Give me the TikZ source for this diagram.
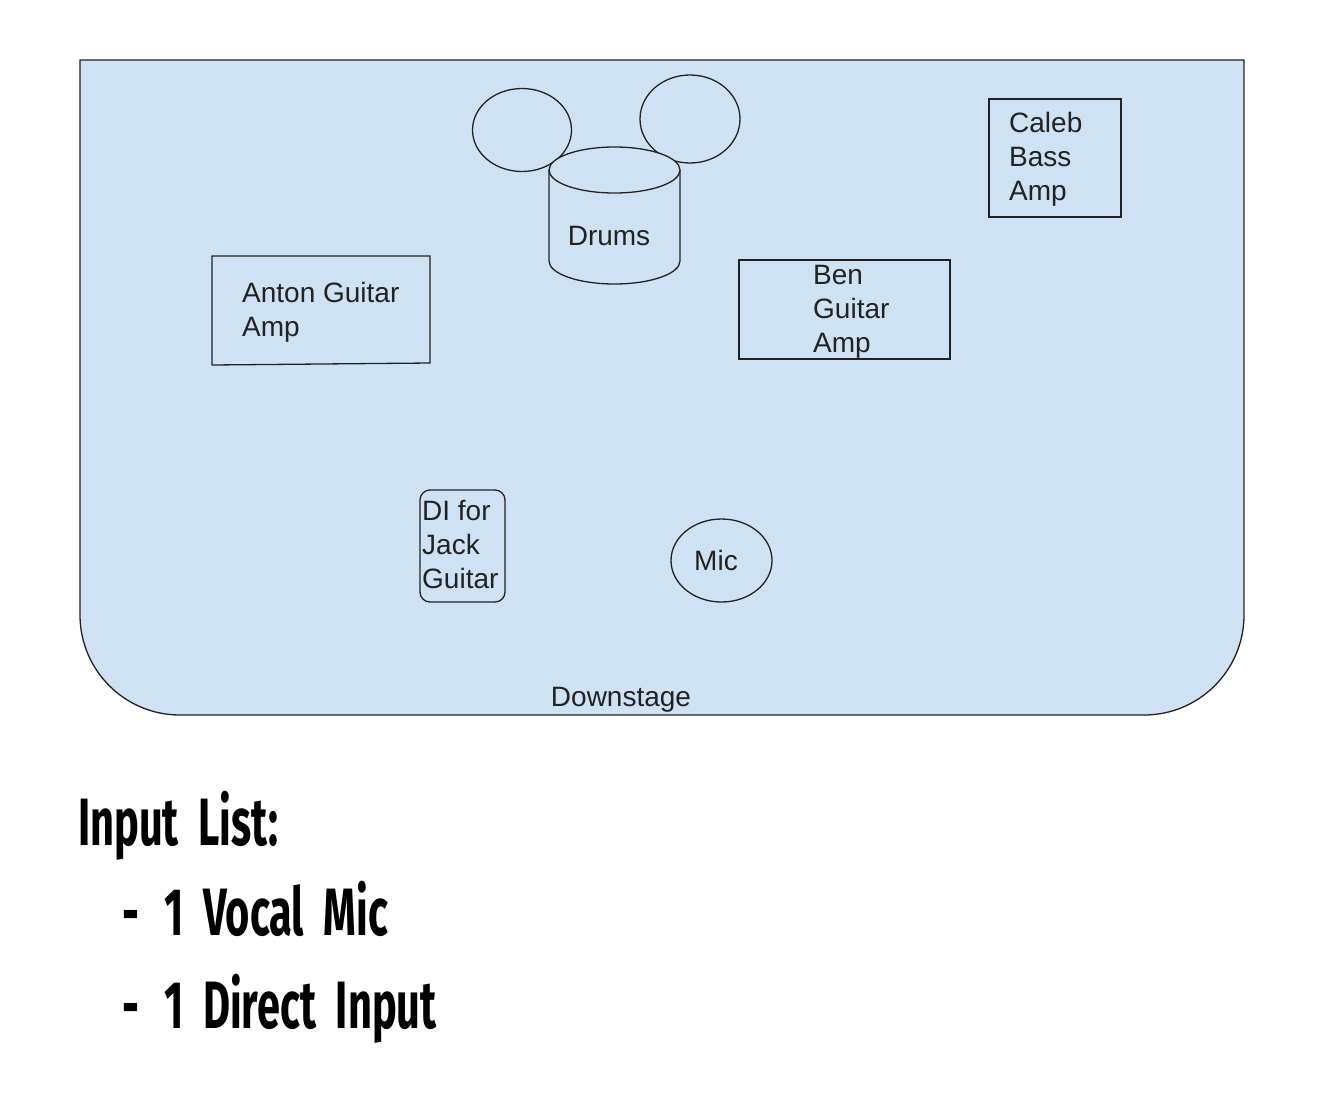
\documentclass[tikz,border=0pt]{standalone}
\usepackage{fontspec}
\setmainfont{Liberation Sans}
\newfontfamily\listfont{Fira Sans}[FakeStretch=0.62,WordSpace=2]
\definecolor{stagefill}{HTML}{CFE2F3}
\definecolor{ink}{HTML}{222222}
\newcommand\stk[1]{\vtop{\baselineskip=34pt\lineskiplimit=-100pt\halign{##\hfil\cr#1\crcr}}}
\begin{document}
\begin{tikzpicture}[x=1pt,y=-1pt,
  outline/.style={draw=ink,line width=1.3pt,fill=stagefill},
  lbl/.style={inner sep=0pt,font=\fontsize{28}{34}\selectfont,text=ink},
  listtxt/.style={inner sep=0pt,anchor=base west,font=\listfont\bfseries\fontsize{67}{80}\selectfont,text=black}]
\useasboundingbox[fill=white] (0,0) rectangle (1325,1117);
% stage
\path[outline] (80,60) -- (80,615) arc[start angle=180,end angle=270,radius=100pt]
  -- (1144,715) arc[start angle=270,end angle=360,radius=100pt] -- (1244,60) -- cycle;
% cymbals
\path[outline] (522,130) ellipse [x radius=49.5pt,y radius=41.5pt];
\path[outline] (690,119) ellipse [x radius=50pt,y radius=44pt];
% drum cylinder
\fill[stagefill] (549,170) rectangle (680,261);
\fill[stagefill] (614.5,261) ellipse [x radius=65.5pt,y radius=23pt];
\draw[ink,line width=1.3pt] (549,170) -- (549,261) arc[start angle=180,end angle=360,x radius=65.5pt,y radius=23pt] -- (680,170);
\path[outline] (614.5,170) ellipse [x radius=65.5pt,y radius=23pt];
\node[lbl,anchor=base] (drums) at (609,245) {Drums};
% Anton
\path[outline] (212,256) -- (430,256) -- (430,363) -- (212,365) -- cycle;
\node[lbl,anchor=base west] (anton) at (242,302) {\stk{Anton Guitar\cr Amp}};
% Ben
\path[outline] (739,260) rectangle (950,359);
\node[lbl,anchor=base west] (ben) at (813,284) {\stk{Ben\cr Guitar\cr Amp}};
% Caleb
\path[outline] (989,99) rectangle (1121,217);
\node[lbl,anchor=base west] (caleb) at (1009,132) {\stk{Caleb\cr Bass\cr Amp}};
% DI
\path[outline,rounded corners=10pt] (420,490) rectangle (505,602);
\node[lbl,anchor=base west] (di) at (422,520) {\stk{DI for\cr Jack\cr Guitar}};
% Mic
\path[outline] (721.5,560.5) ellipse [x radius=50.5pt,y radius=41.5pt];
\node[lbl,anchor=base] (mic) at (716,570) {Mic};
% Downstage
\node[lbl,anchor=base] (down) at (621,706) {Downstage};
% input list
\node[listtxt] (head) at (78,845) {Input List:};
\node[listtxt] (dash1) at (122,935) {-};
\node[listtxt] (item1) at (164,935) {1 Vocal Mic};
\node[listtxt] (dash2) at (122,1028) {-};
\node[listtxt] (item2) at (164,1028) {1 Direct Input};
\end{tikzpicture}
\end{document}
